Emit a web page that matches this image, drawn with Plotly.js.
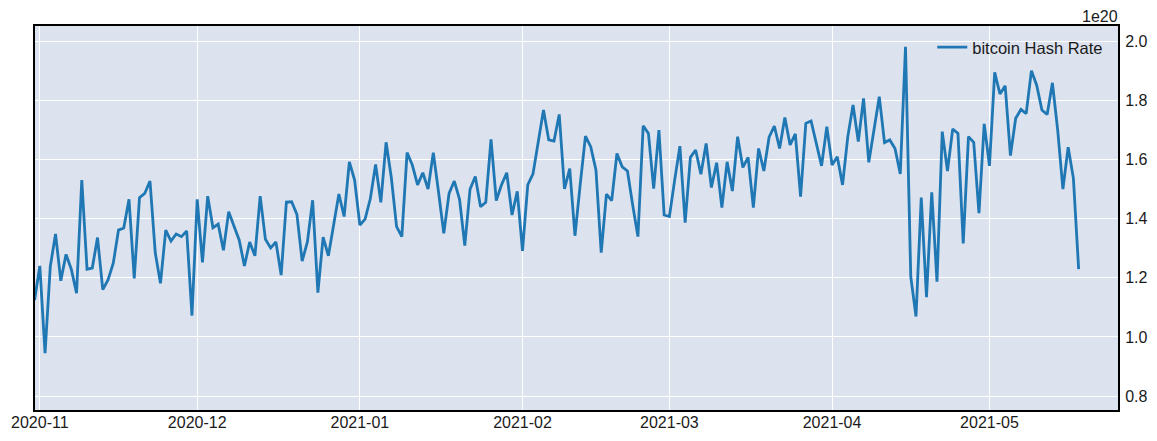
<!DOCTYPE html>
<html>
<head>
<meta charset="utf-8">
<script src="https://cdn.plot.ly/plotly-3.0.1.min.js"></script>
<style>html,body{margin:0;padding:0;background:#fff;}#chart{width:1157px;height:441px;}</style>
</head>
<body>
<div id="chart"></div>
<script>
// Daily series starting 2020-10-31 (values in units of 1e20 H/s)
const startDate = '2020-10-31';
const seriesName = 'bitcoin Hash Rate';
const hashRateE20 = [
  1.125, 1.240, 0.945, 1.238, 1.348, 1.190, 1.279, 1.229, 1.148, 1.530,
  1.229, 1.233, 1.336, 1.160, 1.193, 1.249, 1.361, 1.368, 1.465, 1.198,
  1.471, 1.485, 1.527, 1.285, 1.181, 1.361, 1.324, 1.348, 1.339, 1.358,
  1.072, 1.465, 1.252, 1.476, 1.369, 1.381, 1.293, 1.423, 1.375, 1.328,
  1.240, 1.321, 1.274, 1.476, 1.330, 1.301, 1.321, 1.209, 1.456, 1.457,
  1.414, 1.256, 1.321, 1.462, 1.150, 1.337, 1.274, 1.373, 1.483, 1.407,
  1.592, 1.530, 1.378, 1.398, 1.468, 1.583, 1.455, 1.658, 1.538, 1.373,
  1.339, 1.623, 1.581, 1.514, 1.555, 1.500, 1.623, 1.489, 1.350, 1.485,
  1.527, 1.465, 1.309, 1.499, 1.542, 1.440, 1.455, 1.668, 1.461, 1.514,
  1.555, 1.412, 1.492, 1.291, 1.514, 1.551, 1.666, 1.767, 1.666, 1.662,
  1.752, 1.500, 1.569, 1.342, 1.516, 1.679, 1.643, 1.564, 1.285, 1.483,
  1.461, 1.620, 1.575, 1.561, 1.446, 1.339, 1.714, 1.688, 1.501, 1.699,
  1.412, 1.407, 1.530, 1.645, 1.386, 1.607, 1.632, 1.550, 1.654, 1.505,
  1.589, 1.437, 1.592, 1.493, 1.677, 1.573, 1.607, 1.437, 1.637, 1.561,
  1.675, 1.713, 1.637, 1.742, 1.649, 1.686, 1.474, 1.722, 1.730, 1.651,
  1.578, 1.711, 1.581, 1.609, 1.514, 1.677, 1.784, 1.660, 1.806, 1.590,
  1.705, 1.812, 1.657, 1.666, 1.637, 1.551, 1.981, 1.204, 1.069, 1.471,
  1.134, 1.489, 1.187, 1.694, 1.561, 1.703, 1.688, 1.316, 1.677, 1.658,
  1.418, 1.720, 1.578, 1.894, 1.821, 1.849, 1.613, 1.739, 1.769, 1.755,
  1.900, 1.851, 1.767, 1.752, 1.859, 1.700, 1.500, 1.641, 1.536, 1.229
];
const yTickVals = [0.8, 1.0, 1.2, 1.4, 1.6, 1.8, 2.0];
const yTickText = ['0.8', '1.0', '1.2', '1.4', '1.6', '1.8', '2.0'];
const offsetLabel = '1e20';

function dailyDates(start, n) {
  const p = start.split('-').map(Number);
  const out = [];
  for (let i = 0; i < n; i++) {
    const d = new Date(Date.UTC(p[0], p[1] - 1, p[2] + i));
    out.push(d.toISOString().slice(0, 10));
  }
  return out;
}
const dates = dailyDates(startDate, hashRateE20.length);

const fontFam = '"Liberation Sans", Arial, sans-serif';
const txtColor = '#1a1a1a';
const fs = 16;

const trace = {
  type: 'scatter',
  mode: 'lines',
  x: dates,
  y: hashRateE20,
  name: seriesName,
  showlegend: true,
  line: {color: '#1f77b4', width: 2.8}
};

const layout = {
  width: 1157,
  height: 441,
  margin: {l: 35, r: 39, t: 26, b: 31, pad: 0},
  paper_bgcolor: '#ffffff',
  plot_bgcolor: '#dce2ee',
  font: {family: fontFam, size: fs, color: txtColor},
  showlegend: true,
  legend: {
    x: 0.8285, xanchor: 'left', y: 0.99, yanchor: 'top',
    bgcolor: 'rgba(0,0,0,0)', borderwidth: 0,
    font: {family: fontFam, size: 16.5, color: txtColor}
  },
  xaxis: {
    type: 'date',
    range: ['2020-10-31 02:00', '2021-05-25 12:00'],
    dtick: 'M1',
    tick0: '2020-11-01',
    tickformat: '%Y-%m',
    showgrid: true, gridcolor: '#ffffff', gridwidth: 1,
    zeroline: false,
    showline: true, linecolor: '#000000', linewidth: 2, mirror: true,
    ticks: '', ticklabelstandoff: -3,
    tickfont: {family: fontFam, size: fs, color: txtColor}
  },
  yaxis: {
    side: 'right',
    range: [0.753, 2.051],
    tickmode: 'array',
    tickvals: yTickVals,
    ticktext: yTickText,
    showgrid: true, gridcolor: '#ffffff', gridwidth: 1,
    zeroline: false,
    showline: true, linecolor: '#000000', linewidth: 2, mirror: true,
    ticks: 'outside', ticklen: 2, tickcolor: 'rgba(0,0,0,0)',
    tickfont: {family: fontFam, size: fs, color: txtColor}
  },
  annotations: [{
    text: offsetLabel,
    xref: 'paper', yref: 'paper',
    x: 1, y: 1, xanchor: 'right', yanchor: 'bottom',
    yshift: -1, xshift: 2,
    showarrow: false,
    font: {family: fontFam, size: fs, color: txtColor}
  }]
};

Plotly.newPlot('chart', [trace], layout, {displayModeBar: false, staticPlot: true});
</script>
</body>
</html>
